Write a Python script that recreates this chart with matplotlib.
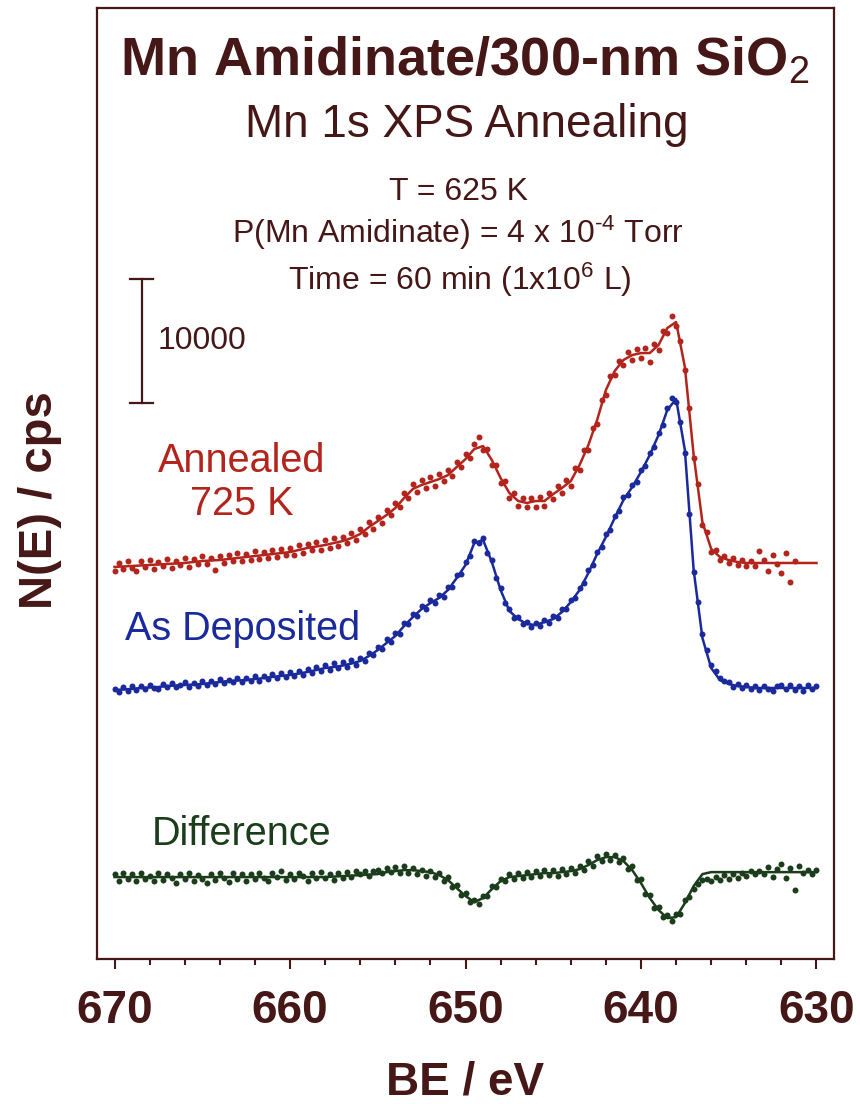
import numpy as np
import matplotlib
matplotlib.use("Agg")
import matplotlib.pyplot as plt
from matplotlib.ticker import MultipleLocator

plt.rcParams['font.family'] = ['Liberation Sans', 'DejaVu Sans']
plt.rcParams['mathtext.fontset'] = 'custom'
plt.rcParams['mathtext.rm'] = 'Liberation Sans'
plt.rcParams['mathtext.it'] = 'Liberation Sans:italic'
plt.rcParams['mathtext.bf'] = 'Liberation Sans:bold'

# ---------------------------------------------------------------------------
# Mn 1s spectra (cps). Fits sampled every 0.5 eV, measured points every
# 0.25 eV, both starting at 670 eV and running toward lower binding energy.
# ---------------------------------------------------------------------------
BE_START = 670.0
FIT_STEP = 0.5
DATA_STEP = 0.25

deposited_fit = [
    810, 850, 890, 970, 1010, 1050, 1130, 1170, 1210, 1250,
    1290, 1370, 1450, 1530, 1570, 1610, 1690, 1770, 1860, 1940,
    2020, 2140, 2260, 2420, 2580, 2660, 2780, 2940, 3150, 3550,
    4030, 4600, 5160, 5970, 6690, 7340, 7820, 8230, 8870, 9840,
    10890, 12660, 12900, 11130, 8870, 7180, 6530, 6130, 6050, 6290,
    6530, 7100, 7900, 8870, 10240, 11780, 13150, 14680, 16130, 17180,
    18390, 19760, 21370, 23390, 24280, 20160, 10490, 5000, 2580, 1610,
    1290, 1130, 1050, 970, 970, 970, 970, 970, 970, 970,
    970,
]

annealed_fit = [
    650, 690, 730, 770, 810, 850, 890, 930, 970, 1050,
    1130, 1170, 1210, 1290, 1370, 1450, 1530, 1610, 1690, 1770,
    1850, 2020, 2180, 2300, 2420, 2580, 2740, 2980, 3310, 3870,
    4350, 4840, 5400, 6210, 6940, 7260, 7500, 7740, 8060, 8710,
    9350, 10160, 10400, 9270, 7820, 6610, 5970, 5810, 5970, 5970,
    6530, 7020, 7580, 8870, 10480, 12500, 14920, 16450, 17340, 17740,
    17900, 17900, 18550, 19920, 20400, 16770, 9680, 4270, 2100, 1450,
    1210, 1050, 970, 970, 970, 970, 970, 970, 970, 970,
    970,
]

difference_fit = [
    -160, -160, -160, -160, -160, -160, -160, -160, -160, -160,
    -160, -160, -160, -160, -160, -160, -160, -160, -160, -160,
    -160, -160, -160, -160, -160, -120, -80, -40, 0, 40,
    80, 240, 320, 400, 400, 320, 240, 0, -400, -1050,
    -1690, -2180, -1850, -1130, -480, -160, -80, 0, 80, 160,
    160, 240, 320, 480, 810, 1210, 1450, 1450, 1130, 400,
    -650, -1850, -2820, -3470, -3390, -2260, -890, 80, 240, 240,
    240, 240, 240, 240, 240, 240, 240, 240, 240, 240,
    240,
]

deposited_data = [
    900, 650, 1010, 760, 1100, 820, 1150, 880,
    1200, 950, 860, 1300, 1020, 1370, 1010, 1250,
    1450, 1080, 1390, 1150, 1560, 1200, 1500, 1280,
    1700, 1350, 1650, 1420, 1800, 1480, 1750, 1500,
    1900, 1560, 1950, 1680, 2100, 1750, 2150, 1850,
    2250, 1900, 2350, 2050, 2500, 2150, 2650, 2300,
    2850, 2450, 2950, 2550, 3050, 2650, 3200, 2850,
    3400, 3150, 3800, 3600, 4300, 4100, 4900, 4650,
    5400, 5300, 6250, 6100, 6950, 6800, 7550, 7350,
    8050, 7800, 8450, 8300, 9100, 9150, 10050, 10150,
    11100, 11600, 12850, 12700, 13050, 11850, 11300, 9800,
    9050, 7850, 7350, 6650, 6700, 6150, 6300, 5900,
    6250, 5980, 6450, 6250, 6750, 6650, 7300, 7350,
    8100, 8200, 9050, 9400, 10450, 10850, 11950, 12300,
    13350, 13750, 14850, 15250, 16350, 16500, 17350, 17600,
    18550, 18900, 19950, 20400, 21550, 22200, 23550, 24350,
    24050, 22400, 19950, 15000, 10300, 7900, 5300, 4000,
    2800, 2300, 1800, 1550, 1450, 1050, 1300, 950,
    1200, 850, 1100, 820, 1150, 900, 760, 1100,
    1250, 880, 1180, 800, 1120, 700, 1200, 850,
    1100,
]

annealed_data = [
    300, 1000, 500, 1150, 600, 350, 1100, 650,
    1200, 500, 1050, 700, 1300, 600, 1150, 800,
    1400, 650, 1300, 850, 1500, 900, 1350, 400,
    1550, 1000, 1600, 1100, 1800, 1150, 1700, 1250,
    1950, 1300, 1850, 1400, 2050, 1450, 2100, 1600,
    2200, 1650, 2400, 1800, 2500, 2000, 2650, 2050,
    2800, 2200, 2950, 2300, 3100, 2550, 3350, 2800,
    3700, 3300, 4250, 3750, 4700, 4200, 5250, 4800,
    5800, 5450, 6600, 6200, 7300, 6700, 7650, 7000,
    7900, 7200, 8150, 7550, 8450, 8000, 9100, 8700,
    9750, 9400, 10550, 11100, 10050, 10200, 8900, 8900,
    7450, 7600, 6250, 6650, 5600, 6250, 5450, 6200,
    5500, 6300, 5600, 6600, 6150, 7150, 6650, 7700,
    7200, 8600, 8500, 10050, 10100, 11850, 12150, 14100,
    14550, 16050, 16100, 17250, 16950, 17950, 17350, 18250,
    17500, 18300, 17200, 18600, 18150, 19650, 19550, 20900,
    20100, 18900, 16500, 13500, 9400, 7300, 4000, 3450,
    1850, 2050, 1200, 1550, 950, 1400, 800, 1250,
    750, 1150, 700, 1900, 1200, 300, 1600, 850,
    200, 1800, -600, 1100,
]

difference_data = [
    100, -450, 150, -350, 50, -500, 200, -300,
    -50, -450, 150, -400, 100, -250, -600, 50,
    -350, 200, -450, 0, -300, -650, 100, -400,
    150, -200, -550, 200, -300, 50, -450, 100,
    -350, 200, -250, -500, 150, -150, 300, -400,
    50, -300, 200, -100, -500, 150, -250, 250,
    -200, 100, -400, 150, -250, 250, -150, 300,
    100, 350, -100, 300, 450, 150, 550, 250,
    650, 150, 700, 200, 550, 50, 450, -50,
    300, -150, 200, -450, -150, -950, -800, -1600,
    -1450, -2200, -2000, -2300, -1650, -1700, -900, -1000,
    -300, -500, 50, -350, 150, -200, 250, -150,
    300, -100, 450, 0, 400, -50, 500, 100,
    550, 150, 750, 400, 1100, 700, 1500, 1100,
    1700, 1250, 1650, 1050, 1400, 500, 700, -400,
    -350, -1550, -1600, -2650, -2550, -3400, -3200, -3700,
    -3150, -3100, -2000, -1800, -1100, -700, -400, -300,
    -450, -150, -400, 0, -300, 100, -200, 200,
    -100, 300, 50, 350, 100, 650, -150, 500,
    900, -200, 600, -1200, 750, 200, 450, 100,
    400,
]

# vertical stacking of the three traces (cps)
OFFSET_ANNEALED = 30970
OFFSET_DEPOSITED = 20890
OFFSET_DIFFERENCE = 6770

SCALE_BAR_CPS = 10000
x_ticks = [670, 660, 650, 640, 630]
x_tick_labels = ["670", "660", "650", "640", "630"]

# ---------------------------------------------------------------------------
BROWN = '#461717'
RED = '#b3241c'
BLUE = '#1a2a9c'
GREEN = '#1b3d1b'

fig = plt.figure(figsize=(8.6, 11.04), dpi=100)
ax = fig.add_axes([0.1128, 0.1313, 0.857, 0.8615])


def energy_axis(values, step):
    return BE_START - step * np.arange(len(values))


traces = [
    (annealed_fit, annealed_data, OFFSET_ANNEALED, RED),
    (deposited_fit, deposited_data, OFFSET_DEPOSITED, BLUE),
    (difference_fit, difference_data, OFFSET_DIFFERENCE, GREEN),
]
for fit, data, offset, color in traces:
    ax.plot(energy_axis(fit, FIT_STEP), np.asarray(fit) + offset,
            color=color, lw=1.8, zorder=2)
    ax.plot(energy_axis(data, DATA_STEP), np.asarray(data) + offset,
            linestyle='none', marker='o', ms=4.3, mew=0, color=color, zorder=3)

# intensity scale bar
bar_x, bar_y0, cap = 668.46, 44840, 0.65
ax.plot([bar_x, bar_x], [bar_y0, bar_y0 + SCALE_BAR_CPS], color=BROWN, lw=1.6)
for yy in (bar_y0, bar_y0 + SCALE_BAR_CPS):
    ax.plot([bar_x - cap, bar_x + cap], [yy, yy], color=BROWN, lw=1.6)
ax.text(667.55, bar_y0 + SCALE_BAR_CPS / 2, f"{SCALE_BAR_CPS}", fontsize=23,
        color=BROWN, ha='left', va='center')

# titles and conditions
ax.text(0.499, 0.9285, r"Mn Amidinate/300-nm SiO$_{\mathrm{2}}$", transform=ax.transAxes,
        fontsize=39, fontweight='bold', color=BROWN, ha='center', va='baseline')
ax.text(0.502, 0.8644, "Mn 1s XPS Annealing", transform=ax.transAxes,
        fontsize=33, color=BROWN, ha='center', va='baseline')
ax.text(0.490, 0.798, "T = 625 K", transform=ax.transAxes,
        fontsize=23, color=BROWN, ha='center', va='baseline')
ax.text(0.490, 0.7529, r"P(Mn Amidinate) = 4 x 10$^{\text{-4}}$ Torr", transform=ax.transAxes,
        fontsize=23, color=BROWN, ha='center', va='baseline')
ax.text(0.4925, 0.7035, r"Time = 60 min (1x10$^{6}$ L)", transform=ax.transAxes,
        fontsize=23, color=BROWN, ha='center', va='baseline')

# trace labels
ax.text(0.1967, 0.512, "Annealed", transform=ax.transAxes,
        fontsize=28.5, color=RED, ha='center', va='baseline')
ax.text(0.1967, 0.4669, "725 K", transform=ax.transAxes,
        fontsize=28.5, color=RED, ha='center', va='baseline')
ax.text(0.1974, 0.3354, "As Deposited", transform=ax.transAxes,
        fontsize=28.5, color=BLUE, ha='center', va='baseline')
ax.text(0.1967, 0.1199, "Difference", transform=ax.transAxes,
        fontsize=28.5, color=GREEN, ha='center', va='baseline')

# axes styling
ax.set_xlim(671.0, 629.0)
ax.set_ylim(0, 76700)
ax.set_xticks(x_ticks)
ax.set_xticklabels(x_tick_labels, fontsize=33, fontweight='bold', color=BROWN)
ax.xaxis.set_minor_locator(MultipleLocator(2))
ax.tick_params(axis='x', which='major', direction='out', length=7.5, width=1.5,
               colors=BROWN, pad=14)
ax.tick_params(axis='x', which='minor', direction='out', length=4, width=1.5,
               colors=BROWN)
ax.set_yticks([])
for spine in ax.spines.values():
    spine.set_color(BROWN)
    spine.set_linewidth(1.6)

ax.set_xlabel("BE / eV", fontsize=33, fontweight='bold', color=BROWN, labelpad=20)
ax.set_ylabel("N(E) / cps", fontsize=34, fontweight='bold', color=BROWN)
ax.yaxis.set_label_coords(-0.047, 0.483)

fig.savefig("out.png", dpi=100, facecolor='white')
